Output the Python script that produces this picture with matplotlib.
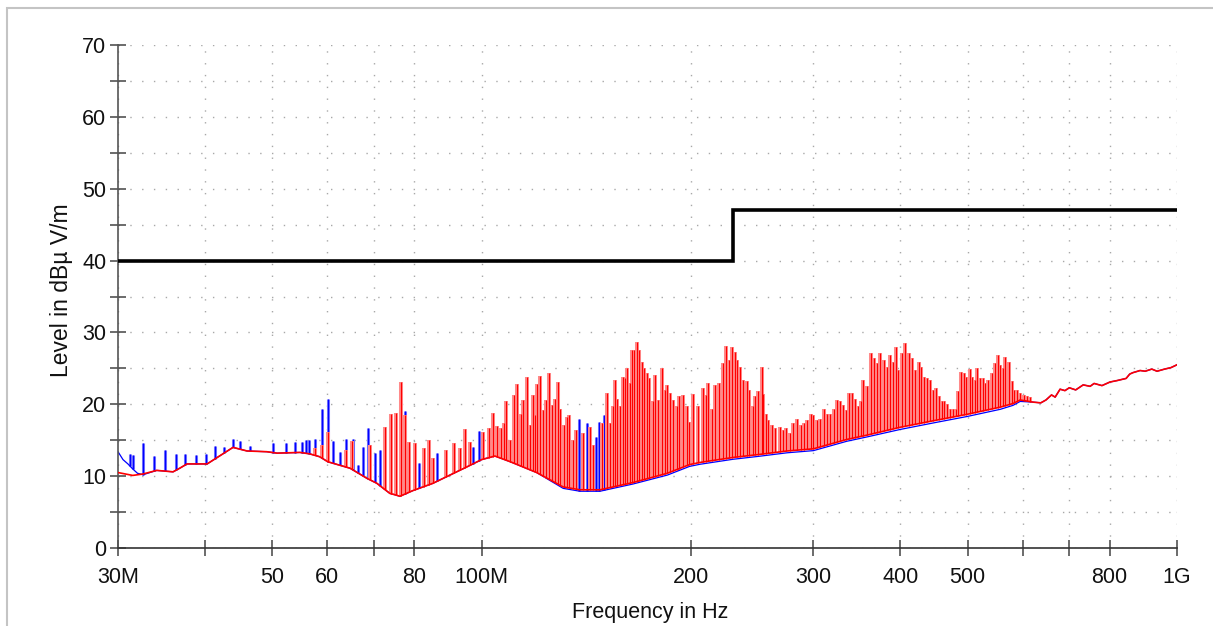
import numpy as np
import matplotlib
matplotlib.use('Agg')
import matplotlib.pyplot as plt
from matplotlib.patches import Rectangle

plt.rcParams['font.family'] = ['Liberation Sans', 'DejaVu Sans']

# ---------------- data (frequency in MHz, level in dBuV/m) ----------------
limit_f = [30, 230, 230, 1000]
limit_v = [40, 40, 47, 47]

red_floor_f = [30, 31.5, 32.6, 34.1, 36.0, 36.8, 37.7, 40.3, 43.9, 46.0, 49.1, 50.8,
               54.8, 56.6, 58.5, 60.1, 64.7, 68.4, 70.7, 73.8, 75.1, 76.3, 79.7, 85.1,
               95.3, 100.0, 104.5, 110.0, 120.0, 131.0, 138.5, 148.0, 165.0, 185.0,
               199.0, 206.0, 230.0, 250.0, 275.0, 300.0, 335.0, 358.0, 400.0, 446.0,
               499.0, 557.0, 581.0, 595.0, 621.0, 637.0, 648.0, 660.0, 668.0, 679.0,
               690.0, 700.0, 715.0, 733.0, 750.0, 760.0, 780.0, 801.0, 820.0, 845.0,
               855.0, 864.0, 885.0, 900.0, 920.0, 936.0, 960.0, 980.0, 1000.0]
red_floor_v = [10.5, 10.1, 10.3, 10.8, 10.6, 11.1, 11.7, 11.7, 14.0, 13.5, 13.4, 13.2,
               13.3, 13.1, 12.7, 12.0, 11.1, 9.7, 9.0, 7.6, 7.4, 7.2, 8.0, 9.0,
               11.3, 12.3, 12.8, 12.0, 10.5, 8.5, 8.1, 8.1, 9.1, 10.4,
               11.6, 11.9, 12.6, 13.0, 13.5, 13.8, 15.1, 15.7, 16.8, 17.7,
               18.6, 19.6, 20.1, 20.6, 20.3, 20.2, 20.6, 21.3, 21.0, 22.1,
               21.9, 22.3, 22.0, 22.7, 22.5, 22.9, 22.6, 23.1, 23.3, 23.6,
               24.2, 24.4, 24.7, 24.6, 24.9, 24.6, 24.9, 25.1, 25.5]

blue_floor_f = [30, 30.5, 31.0, 31.5, 32.0, 32.6, 34.1, 36.0, 36.8, 37.7, 40.3, 43.9,
                46.0, 49.1, 50.8, 54.8, 56.6, 58.5, 60.1, 64.7, 68.4, 70.7, 73.8, 75.1,
                76.3, 79.7, 85.1, 95.3, 100.0, 104.5, 110.0, 120.0, 131.0, 138.5, 148.0,
                165.0, 185.0, 199.0, 206.0, 230.0, 250.0, 275.0, 300.0, 335.0, 358.0,
                400.0, 446.0, 499.0, 557.0, 581.0, 595.0, 621.0, 637.0, 648.0, 660.0,
                668.0, 679.0, 690.0, 700.0, 715.0, 733.0, 750.0, 760.0, 780.0, 801.0,
                820.0, 845.0, 855.0, 864.0, 885.0, 900.0, 920.0, 936.0, 960.0, 980.0,
                1000.0]
blue_floor_v = [13.4, 12.3, 11.7, 11.0, 10.4, 10.2, 10.8, 10.6, 11.1, 11.7, 11.7, 14.0,
                13.5, 13.4, 13.2, 13.3, 13.1, 12.7, 12.0, 11.1, 9.7, 9.0, 7.6, 7.4,
                7.2, 8.0, 9.0, 11.3, 12.3, 12.8, 12.0, 10.5, 8.3, 7.9, 7.9,
                8.9, 10.15, 11.35, 11.65, 12.35, 12.75, 13.25, 13.55, 14.85, 15.45,
                16.5, 17.4, 18.3, 19.3, 19.85, 20.4, 20.3, 20.2, 20.6, 21.3,
                21.0, 22.1, 21.9, 22.3, 22.0, 22.7, 22.5, 22.9, 22.6, 23.1,
                23.3, 23.6, 24.2, 24.4, 24.7, 24.6, 24.9, 24.6, 24.9, 25.1,
                25.5]

blue_spike_f = [31.2, 31.5, 32.6, 33.8, 35.1, 36.4, 37.5, 38.8, 40.1, 41.4, 42.6, 43.9,
                44.9, 46.4, 50.1, 52.4, 53.9, 55.1, 56.0, 56.5, 57.6, 58.9, 60.1, 61.2,
                62.6, 63.8, 65.4, 66.5, 67.6, 68.7, 70.3, 71.4, 77.6, 81.4, 86.2, 97.3,
                99.1, 138.2, 141.6, 146.1, 147.7, 150.0]
blue_spike_v = [13.1, 12.9, 14.6, 12.8, 13.7, 13.1, 13.1, 12.9, 13.1, 14.2, 14.0, 15.1,
                14.9, 14.2, 14.6, 14.6, 14.8, 14.8, 15.0, 15.0, 15.1, 19.4, 20.7, 14.9,
                13.3, 15.1, 15.1, 11.5, 14.1, 16.7, 13.2, 13.6, 19.1, 11.8, 13.2, 14.0,
                16.3, 17.9, 17.4, 15.5, 17.6, 18.5]

red_spike_f = [57.6, 58.9, 60.1, 63.8, 65.0, 69.1, 72.6, 74.0, 75.2, 76.6, 77.6, 78.7,
               80.2, 82.6, 84.0, 85.2, 88.8, 91.4, 93.1, 94.7, 96.2, 100.4, 102.5, 103.7,
               105.2, 106.5, 107.7, 108.4, 109.8, 111.3, 112.3, 113.8, 114.8, 116.1, 117.4,
               118.4, 119.3, 120.3, 121.4, 122.6, 123.7, 125.1, 126.1, 127.5, 128.9, 129.6,
               131.3, 132.5, 133.7, 135.2, 136.7, 140.0, 143.2, 144.8, 148.9, 151.3, 153.0,
               154.4, 155.6, 156.7, 158.1, 159.6, 160.8, 162.0, 163.5, 164.3, 165.7, 167.2,
               168.6, 170.0, 171.3, 172.8, 174.3, 176.3, 177.6, 179.6, 181.6, 183.6, 184.7,
               186.7, 188.7, 190.9, 192.5, 194.7, 197.3, 199.0, 201.7, 205.0, 208.0, 210.3,
               211.9, 214.3, 216.7, 219.8, 222.2, 224.6, 227.1, 228.9, 231.5, 233.2, 235.3,
               237.9, 240.6, 242.7, 245.5, 247.3, 250.1, 252.9, 254.2, 256.5, 258.5, 261.4,
               264.3, 268.7, 271.7, 274.1, 277.8, 280.8, 284.5, 287.8, 291.0, 294.1, 297.5,
               300.1, 303.5, 306.8, 310.9, 313.7, 317.2, 321.4, 324.3, 327.8, 331.4, 334.4,
               337.0, 340.8, 344.5, 348.3, 351.0, 354.1, 358.1, 363.3, 366.9, 370.2, 374.3,
               378.4, 382.7, 386.0, 391.1, 394.6, 397.6, 402.2, 406.6, 411.1, 415.7, 420.3,
               424.9, 428.7, 433.0, 436.9, 441.7, 446.5, 450.5, 454.0, 459.1, 462.6, 467.7,
               471.9, 476.1, 481.4, 485.0, 489.4, 493.2, 497.6, 503.1, 507.1, 511.5, 515.6,
               521.3, 525.9, 529.9, 535.7, 541.9, 547.8, 552.0, 557.0, 561.9, 566.3, 572.4,
               579.0, 583.4, 588.6, 595.1, 601.7, 608.5, 615.2]
red_spike_v = [13.9, 14.3, 16.2, 13.7, 14.9, 14.3, 16.9, 18.6, 18.8, 23.1, 18.5, 14.8,
               14.6, 13.9, 15.0, 12.5, 13.6, 14.6, 13.9, 16.5, 14.8, 16.2, 16.7, 18.8,
               17.0, 16.7, 17.4, 20.5, 15.0, 21.3, 22.8, 18.7, 20.6, 23.8, 17.1,
               21.3, 18.5, 22.8, 23.9, 19.2, 20.6, 24.3, 19.9, 20.8, 23.1, 19.3,
               17.1, 18.3, 18.5, 15.0, 16.4, 16.0, 16.9, 14.3, 17.4, 21.6, 17.4,
               19.7, 23.4, 20.8, 19.7, 23.8, 23.6, 25.0, 22.9, 27.6, 27.6, 28.6,
               27.5, 25.9, 25.0, 24.3, 23.6, 20.4, 24.1, 20.6, 25.0, 22.0, 22.7,
               21.6, 20.6, 19.7, 21.1, 21.3, 19.8, 17.6, 21.5, 19.8, 22.2, 21.3,
               23.0, 19.4, 22.7, 22.9, 25.7, 28.1, 26.2, 28.0, 27.3, 26.2, 25.2,
               23.4, 23.2, 22.0, 19.7, 21.1, 21.8, 25.2, 21.5, 18.7, 17.8, 17.1,
               16.7, 16.9, 16.4, 16.7, 16.0, 17.4, 18.0, 17.1, 17.4, 17.8, 18.7,
               18.5, 17.8, 18.0, 19.4, 18.7, 18.7, 19.4, 20.6, 20.4, 19.9, 19.2,
               21.6, 21.6, 20.8, 19.7, 20.5, 23.4, 22.5, 27.1, 26.4, 25.7, 27.1,
               26.2, 25.2, 26.9, 25.9, 28.0, 24.8, 27.1, 28.5, 27.1, 26.4, 24.8,
               25.9, 25.2, 23.8, 23.6, 23.4, 22.0, 22.2, 21.1, 20.4, 20.4, 20.1,
               19.4, 19.4, 19.4, 21.8, 24.5, 24.3, 23.8, 24.9, 23.8, 23.4, 25.0,
               23.6, 23.6, 22.9, 23.4, 24.3, 25.7, 26.9, 25.5, 25.0, 26.6, 25.9,
               23.2, 22.0, 22.0, 21.6, 21.3, 21.1, 21.0]

x_ticks = [30, 40, 50, 60, 70, 80, 100, 200, 300, 400, 500, 600, 700, 800, 1000]
x_tick_labels = ['30M', '', '50', '60', '', '80', '100M', '200', '300', '400', '500',
                 '', '', '800', '1G']
y_ticks = [0, 5, 10, 15, 20, 25, 30, 35, 40, 45, 50, 55, 60, 65, 70]
y_tick_labels = ['0', '', '10', '', '20', '', '30', '', '40', '', '50', '', '60', '', '70']

# ---------------- figure ----------------
W, H = 1213, 626
fig = plt.figure(figsize=(W / 100, H / 100), dpi=100)
fig.patch.set_facecolor('white')
ax = fig.add_axes([118 / W, 1 - 548 / H, (1177 - 118) / W, (548 - 45) / H])
ax.set_xscale('log')
ax.set_xlim(30, 1000)
ax.set_ylim(0, 70)


def base_of(freqs, ff, fv):
    return np.interp(np.log10(freqs), np.log10(ff), fv)


bf = np.array(blue_spike_f)
rf = np.array(red_spike_f)
b_base = base_of(bf, blue_floor_f, blue_floor_v)
r_base = base_of(rf, red_floor_f, red_floor_v)

ax.vlines(bf, b_base, blue_spike_v, color='#7a7aff', lw=2.2, zorder=2)
ax.vlines(bf, b_base, blue_spike_v, color='#0000ff', lw=0.9, zorder=2.1)
ax.plot(blue_floor_f, blue_floor_v, color='#0000ff', lw=0.9, zorder=2.2)

ax.vlines(rf, r_base, red_spike_v, color='#ff8a8a', lw=2.9, zorder=3)
ax.vlines(rf, r_base, red_spike_v, color='#ff0000', lw=0.8, zorder=3.1)
ax.plot(red_floor_f, red_floor_v, color='#ff0000', lw=1.2, zorder=3.2)

ax.plot(limit_f, limit_v, color='black', lw=2.6, zorder=4, solid_joinstyle='miter')

# axes styling
ax.set_xticks(x_ticks)
ax.set_xticklabels(x_tick_labels)
ax.xaxis.set_minor_locator(matplotlib.ticker.NullLocator())
ax.set_yticks(y_ticks)
ax.set_yticklabels(y_tick_labels)
ax.grid(True, linestyle=(0, (1, 7.5)), color='#a8a8a8', lw=1.0, zorder=0)
for s in ['top', 'right']:
    ax.spines[s].set_visible(False)
ax.spines['left'].set_color('#555555')
ax.spines['left'].set_linewidth(1.2)
ax.spines['bottom'].set_color('#333333')
ax.spines['bottom'].set_linewidth(1.2)
ax.tick_params(axis='both', direction='inout', length=11, width=1.1,
               color='#444444', labelsize=15.5, labelcolor='#111111')
ax.tick_params(axis='x', pad=8)
ax.tick_params(axis='y', pad=3)

ax.set_xlabel('Frequency in Hz', fontsize=15.5, color='#111111')
ax.xaxis.set_label_coords(0.503, -0.107)
ax.set_ylabel('Level in dB\u00b5 V/m', fontsize=16.5, color='#111111')
ax.yaxis.set_label_coords(-0.0425, 0.513)

fig.add_artist(Rectangle((7 / W, -0.05), 1.2, 1 - 8 / H + 0.05,
                         transform=fig.transFigure, fill=False,
                         edgecolor='#c4c4c4', lw=1.5))

fig.savefig('out.png', dpi=100)
